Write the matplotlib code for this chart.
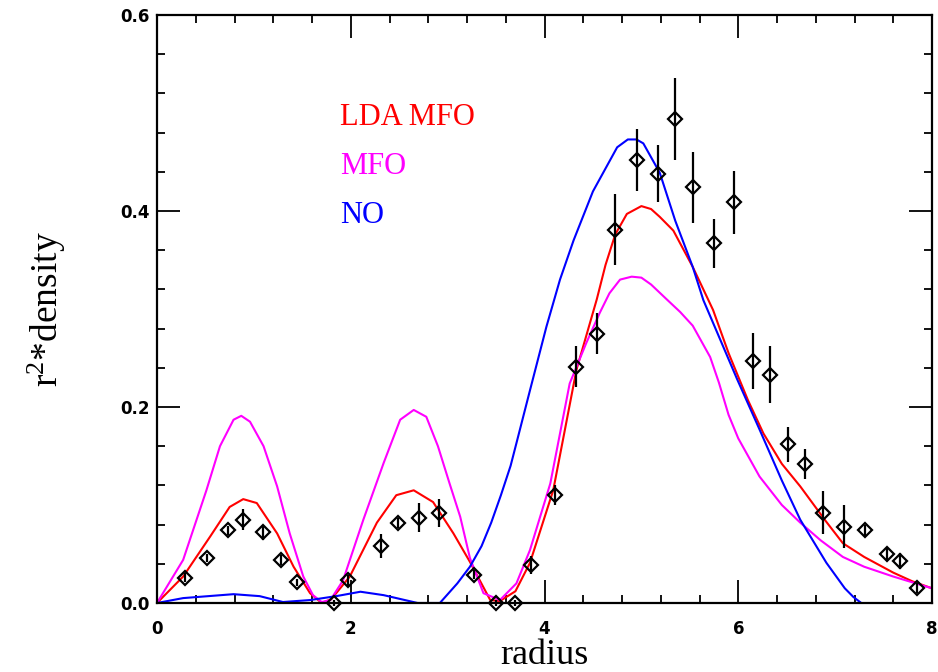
import matplotlib
matplotlib.use("Agg")
import matplotlib.pyplot as plt
from matplotlib.ticker import MultipleLocator

plt.rcParams["mathtext.fontset"] = "custom"
plt.rcParams["mathtext.rm"] = "Liberation Serif"
plt.rcParams["mathtext.it"] = "Liberation Serif:italic"

# theory curves
lda_x = [0.0, 0.27, 0.55, 0.75, 0.89, 1.03, 1.24, 1.41, 1.58, 1.70, 1.80, 1.99, 2.27, 2.47, 2.65,
         2.85, 3.06, 3.23, 3.44, 3.54, 3.70, 3.85, 4.09, 4.33, 4.54, 4.63, 4.73, 4.85, 5.00, 5.10,
         5.19, 5.33, 5.53, 5.74, 5.90, 6.10, 6.26, 6.45, 6.64, 6.90, 7.08, 7.30, 7.60, 7.80, 8.00]
lda_y = [0.0, 0.027, 0.068, 0.098, 0.106, 0.102, 0.071, 0.037, 0.010, 0.000, 0.004, 0.027, 0.082,
         0.110, 0.115, 0.103, 0.071, 0.042, 0.003, 0.002, 0.012, 0.041, 0.115, 0.238, 0.310, 0.345,
         0.376, 0.397, 0.405, 0.402, 0.394, 0.380, 0.343, 0.299, 0.255, 0.207, 0.173, 0.142, 0.119,
         0.084, 0.061, 0.047, 0.031, 0.022, 0.015]

mfo_x = [0.0, 0.27, 0.51, 0.65, 0.79, 0.87, 0.96, 1.10, 1.24, 1.37, 1.51, 1.61, 1.70, 1.79, 1.92,
         2.13, 2.34, 2.51, 2.65, 2.78, 2.90, 3.02, 3.13, 3.23, 3.37, 3.54, 3.71, 3.85, 4.06, 4.26,
         4.43, 4.57, 4.67, 4.78, 4.90, 5.00, 5.10, 5.26, 5.40, 5.53, 5.71, 5.80, 5.90, 6.00, 6.22,
         6.45, 6.64, 6.85, 7.08, 7.30, 7.60, 8.00]
mfo_y = [0.0, 0.044, 0.115, 0.160, 0.187, 0.191, 0.185, 0.160, 0.119, 0.071, 0.027, 0.008, 0.001,
         0.003, 0.023, 0.085, 0.143, 0.187, 0.197, 0.190, 0.160, 0.122, 0.088, 0.046, 0.010, 0.003,
         0.020, 0.054, 0.122, 0.224, 0.265, 0.296, 0.316, 0.330, 0.333, 0.332, 0.325, 0.310, 0.297,
         0.283, 0.251, 0.225, 0.192, 0.168, 0.129, 0.100, 0.082, 0.064, 0.047, 0.037, 0.027, 0.015]

no_x = [0.0, 0.27, 0.79, 1.06, 1.30, 1.58, 1.85, 2.10, 2.34, 2.69, 2.92, 3.10, 3.23, 3.35, 3.45,
        3.55, 3.65, 3.71, 3.85, 4.02, 4.16, 4.30, 4.50, 4.75, 4.86, 4.95, 5.02, 5.19, 5.35, 5.53,
        5.64, 5.99, 6.22, 6.45, 6.64, 6.91, 7.10, 7.19, 7.27]
no_y = [0.0, 0.005, 0.009, 0.007, 0.001, 0.003, 0.007, 0.0115, 0.008, 0.0, 0.0, 0.020, 0.037, 0.058,
        0.082, 0.110, 0.140, 0.163, 0.217, 0.282, 0.330, 0.370, 0.420, 0.465, 0.473, 0.473, 0.469,
        0.439, 0.390, 0.343, 0.309, 0.228, 0.177, 0.125, 0.085, 0.041, 0.015, 0.006, 0.0]

# data points with error bars
pts_x = [0.29, 0.52, 0.73, 0.89, 1.09, 1.28, 1.45, 1.83, 1.97, 2.31, 2.49, 2.70, 2.91, 3.27, 3.50,
         3.70, 3.86, 4.11, 4.33, 4.54, 4.73, 4.95, 5.17, 5.35, 5.53, 5.75, 5.96, 6.15, 6.33, 6.51,
         6.69, 6.87, 7.09, 7.31, 7.54, 7.67, 7.85]
pts_y = [0.026, 0.046, 0.074, 0.085, 0.072, 0.044, 0.021, 0.000, 0.023, 0.058, 0.082, 0.087, 0.092,
         0.029, 0.000, 0.000, 0.039, 0.110, 0.241, 0.275, 0.381, 0.452, 0.438, 0.494, 0.424, 0.367,
         0.409, 0.247, 0.233, 0.162, 0.142, 0.092, 0.078, 0.074, 0.050, 0.043, 0.015]
pts_err = [0.005, 0.004, 0.005, 0.011, 0.008, 0.005, 0.004, 0.003, 0.006, 0.012, 0.005, 0.015, 0.014,
           0.005, 0.003, 0.003, 0.009, 0.010, 0.021, 0.021, 0.036, 0.032, 0.029, 0.042, 0.036, 0.025,
           0.032, 0.029, 0.029, 0.018, 0.015, 0.022, 0.022, 0.006, 0.006, 0.008, 0.005]

labels = ["LDA MFO", "MFO", "NO"]
colors = ["#ff0000", "#ff00ff", "#0000ff"]

fig = plt.figure(figsize=(9.38, 6.72), dpi=100)
ax = fig.add_axes([157 / 938, 1 - 603 / 672, 775 / 938, 588 / 672])

ax.plot(lda_x, lda_y, color=colors[0], lw=1.5)
ax.plot(mfo_x, mfo_y, color=colors[1], lw=1.5)
ax.plot(no_x, no_y, color=colors[2], lw=1.5)
ax.errorbar(pts_x, pts_y, yerr=pts_err, fmt="D", ms=7.5, mfc="none", mec="black", mew=1.6,
            ecolor="black", elinewidth=1.6, capsize=0, clip_on=False)

ax.set_xlim(0, 8)
ax.set_ylim(0, 0.6)
ax.xaxis.set_major_locator(MultipleLocator(2))
ax.xaxis.set_minor_locator(MultipleLocator(0.4))
ax.yaxis.set_major_locator(MultipleLocator(0.2))
ax.yaxis.set_minor_locator(MultipleLocator(0.04))
ax.xaxis.set_major_formatter(plt.FuncFormatter(lambda v, p: f"{v:.0f}"))
ax.yaxis.set_major_formatter(plt.FuncFormatter(lambda v, p: f"{v:.1f}"))

ax.tick_params(which="both", direction="in", top=True, right=True, width=1.3)
ax.tick_params(which="major", length=16.5)
ax.tick_params(which="minor", length=5.8)
ax.tick_params(axis="x", which="major", pad=12)
ax.tick_params(axis="y", which="major", pad=5)
for lab in ax.get_xticklabels() + ax.get_yticklabels():
    lab.set_fontsize(12)
    lab.set_fontweight("bold")
    lab.set_family("DejaVu Sans")
for sp in ax.spines.values():
    sp.set_linewidth(1.6)

ax.set_xlabel("radius", fontsize=26, family="Liberation Serif", labelpad=1)
ax.set_ylabel(r"$\mathrm{r^2{*}density}$", fontsize=27, labelpad=38)

for i, (lab, c) in enumerate(zip(labels, colors)):
    ax.text(1.89, 0.488 - 0.05 * i, lab, color=c, fontsize=22, family="Liberation Serif",
            ha="left", va="baseline")

fig.savefig("out.png", dpi=100)
